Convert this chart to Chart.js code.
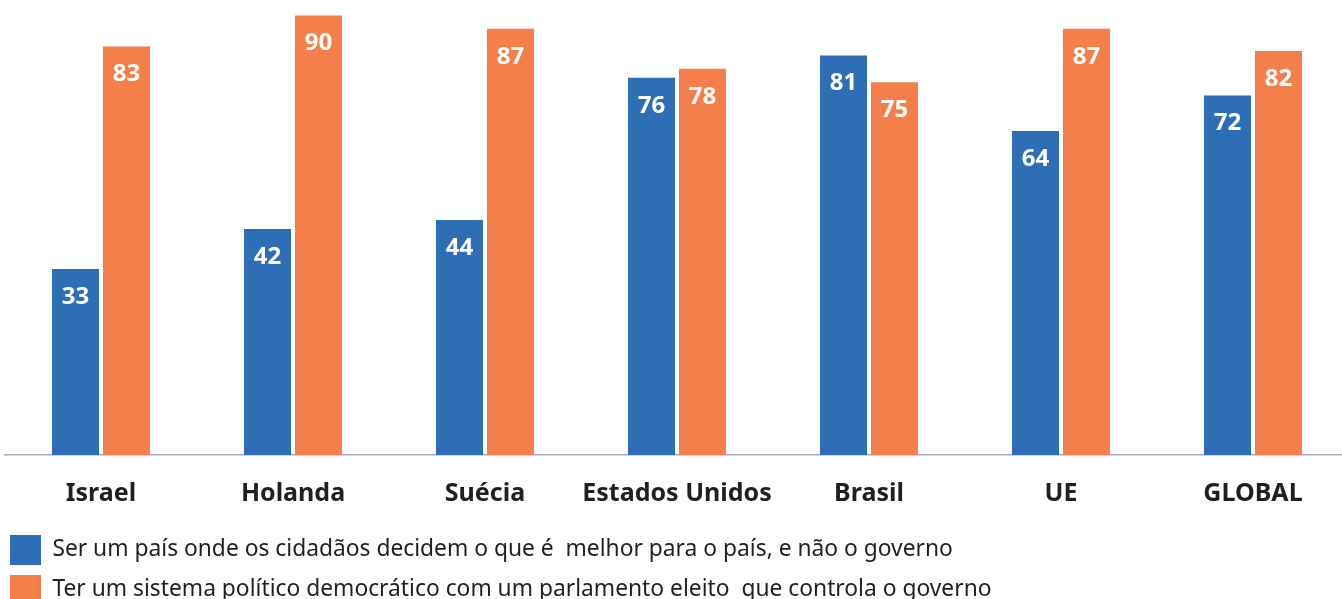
<!DOCTYPE html>
<html>
<head>
<meta charset="utf-8">
<script src="https://cdn.jsdelivr.net/npm/chart.js@4/dist/chart.umd.min.js"></script>
<style>
  html, body { margin: 0; padding: 0; background: #ffffff; overflow: hidden; }
  #wrap { position: relative; width: 1352px; height: 615px; }
</style>
</head>
<body>
<div id="wrap"><canvas id="chart"></canvas></div>
<script>
// Categories and the two survey series (percent)
const categories = ['Israel', 'Holanda', 'Suécia', 'Estados Unidos', 'Brasil', 'UE', 'GLOBAL'];
const cidadaosDecidem = [33, 42, 44, 76, 81, 64, 72];
const parlamentoEleito = [83, 90, 87, 78, 75, 87, 82];
const seriesNames = [
  'Ser um país onde os cidadãos decidem o que é  melhor para o país, e não o governo',
  'Ter um sistema político democrático com um parlamento eleito  que controla o governo'
];

const BLUE = '#2e6eb6';
const ORANGE = '#f47f4a';
const INK = '#231f20';
const FONT = "'Noto Sans', sans-serif";
const Y_MIN = -8.84;
const Y_MAX = 93.48;

// White value labels placed just inside the top of each bar
const valueLabels = {
  id: 'valueLabels',
  afterDatasetsDraw(chart) {
    const ctx = chart.ctx;
    ctx.save();
    ctx.fillStyle = '#ffffff';
    ctx.font = "bold 24px " + FONT;
    ctx.textAlign = 'center';
    ctx.textBaseline = 'middle';
    chart.data.datasets.forEach((ds, i) => {
      chart.getDatasetMeta(i).data.forEach((bar, j) => {
        ctx.fillText(String(ds.data[j]), bar.x, bar.y + 28);
      });
    });
    ctx.restore();
  }
};

new Chart(document.getElementById('chart'), {
  type: 'bar',
  data: {
    labels: categories,
    datasets: [
      { label: seriesNames[0], data: cidadaosDecidem, backgroundColor: BLUE, base: Y_MIN },
      { label: seriesNames[1], data: parlamentoEleito, backgroundColor: ORANGE, base: Y_MIN }
    ]
  },
  options: {
    responsive: true,
    maintainAspectRatio: false,
    animation: false,
    layout: { padding: { left: 0, right: 3, top: 0, bottom: 0 } },
    categoryPercentage: 0.531,
    barPercentage: 0.9216,
    plugins: {
      legend: {
        position: 'bottom',
        align: 'start',
        labels: {
          boxWidth: 31,
          boxHeight: 30,
          padding: 10,
          color: INK,
          font: { family: FONT, size: 22.8 }
        }
      },
      tooltip: { enabled: false },
      title: { display: false }
    },
    scales: {
      x: {
        grid: { display: false, drawTicks: false },
        border: { display: true, color: '#ababab', width: 1.5 },
        ticks: {
          color: INK,
          padding: 24,
          autoSkip: false,
          maxRotation: 0,
          minRotation: 0,
          font: { family: FONT, size: 25, weight: 'bold' }
        },
        afterFit(scale) { scale.height = 70; }
      },
      y: {
        min: Y_MIN,
        max: Y_MAX,
        grid: { display: false, drawTicks: false },
        border: { display: false },
        ticks: { display: false },
        afterFit(scale) { scale.width = 5; }
      }
    }
  },
  plugins: [valueLabels]
});
</script>
</body>
</html>
